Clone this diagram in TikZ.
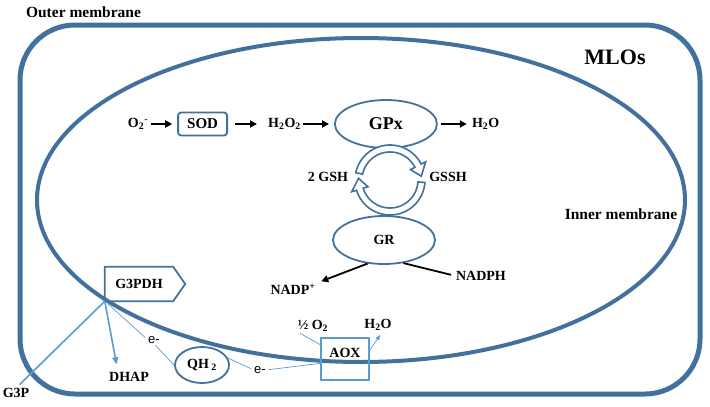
\documentclass[tikz,border=0pt]{standalone}
\usepackage{fontspec}
\setmainfont{Liberation Serif}
\newfontfamily\sanslbl{Liberation Sans}
\usetikzlibrary{arrows.meta, positioning, shapes.geometric}

\definecolor{memblue}{RGB}{65,113,156}
\definecolor{liteblue}{RGB}{91,155,213}

\begin{document}
\begin{tikzpicture}[
  x=1pt, y=-1pt,
  lbl/.style={inner sep=0pt, font=\fontsize{14}{16}\selectfont\bfseries},
  big/.style={inner sep=0pt, font=\fontsize{15.5}{18}\selectfont\bfseries},
  elab/.style={inner sep=0pt, font=\sanslbl\fontsize{13}{15}\selectfont},
  box/.style={draw=memblue, line width=1.8pt, rounded corners=3pt, minimum width=49pt, minimum height=23pt, inner sep=0pt, font=\fontsize{15}{17}\selectfont\bfseries},
  enz/.style={ellipse, draw=memblue, line width=1.8pt, minimum width=102pt, minimum height=48pt, inner sep=0pt, font=\fontsize{14}{16}\selectfont\bfseries},
  arr/.style={line width=1.8pt, -{Triangle[length=7pt,width=7pt]}},
  elec/.style={liteblue, line width=0.7pt},
  lite/.style={liteblue, line width=1.6pt},
  cyc/.style={draw=memblue, line width=1.6pt, fill=white}
]
\useasboundingbox (0,0) rectangle (710,407);

% membranes
\draw[memblue, line width=5pt, rounded corners=55pt] (20,25) rectangle (700,394);
\draw[memblue, line width=4pt] (361,200) ellipse [x radius=324pt, y radius=162pt];
\node[big] (outer) at (83.5,12) {Outer membrane};
\node[big] (inner) at (621,214) {Inner membrane};
\node[inner sep=0pt, font=\fontsize{22}{24}\selectfont\bfseries] (mlos) at (615,57) {MLOs};

% ROS chain
\node[lbl] (o2) at (138,124) {O\textsubscript{2}\textsuperscript{-}};
\node[box, right=29pt of o2] (sod) {SOD};
\node[lbl, right=40pt of sod] (h2o2) {H\textsubscript{2}O\textsubscript{2}};
\node[enz, right=33pt of h2o2, font=\fontsize{18}{20}\selectfont\bfseries] (gpx) {GPx};
\node[lbl, right=34pt of gpx] (h2o) {H\textsubscript{2}O};

\draw[arr, shorten <=3pt, shorten >=5pt] (o2) -- (sod);
\draw[arr, shorten <=7pt, shorten >=11pt] (sod) -- (h2o2);
\draw[arr, shorten <=2pt, shorten >=5pt] (h2o2) -- (gpx);
\draw[arr, shorten <=3pt, shorten >=5pt] (gpx) -- (h2o);

% glutathione cycle
\coordinate (loop) at (390,180);
\begin{scope}[shift={(loop)}]
\draw[cyc] plot[domain=192:333, samples=40] ({35*cos(\x)},{35*sin(\x)}) -- (333:40) -- (353:31.5) -- (333:23)
  -- plot[domain=333:192, samples=40] ({28*cos(\x)},{28*sin(\x)}) -- cycle;
\draw[cyc] plot[domain=4:163, samples=40] ({35*cos(\x)},{35*sin(\x)}) -- (163:40) -- (183:31.5) -- (163:23)
  -- plot[domain=163:4, samples=40] ({28*cos(\x)},{28*sin(\x)}) -- cycle;
\end{scope}

\node[enz] (gr) at (384,240) {GR};
\node[lbl] (gsh) at (328,177) {2 GSH};
\node[lbl] (gssh) at (448,177) {GSSH};
\node[lbl] (nadpp) at (293,289) {NADP\textsuperscript{+}};
\node[lbl] (nadph) at (481,276) {NADPH};

\draw[arr, shorten >=6pt] (gr.235) -- (nadpp.north east);
\draw[line width=1.8pt, shorten >=5pt] (gr.-50) -- (nadph.west);

% G3P shuttle
\node[lbl, minimum width=68pt, minimum height=34pt] (g3pdh) at (139,284) {G3PDH};
\draw[memblue, line width=1.8pt] (g3pdh.south west) -- (g3pdh.north west) -- (g3pdh.north east)
  -- ([xshift=12pt]g3pdh.east) -- (g3pdh.south east) -- cycle;
\node[lbl] (g3p) at (16,393) {G3P};
\node[lbl] (dhap) at (129,377) {DHAP};
\draw[lite, shorten >=5pt] (g3pdh.south west) -- (g3p.north);
\draw[lite, -{Triangle[length=7pt,width=6pt]}, shorten >=8pt] (g3pdh.south west) -- ([xshift=9pt]dhap.north west);

% electron path
\node[elab] (e1) at (154,340) {e-};
\node[elab] (e2) at (260,370) {e-};
\node[enz, minimum width=54pt, minimum height=36pt] (qh2) at (202,365) {QH\,\textsubscript{2}};
\node[draw=liteblue, line width=1.8pt, minimum width=48pt, minimum height=42pt, text depth=12pt,
  font=\fontsize{14}{16}\selectfont\bfseries] (aox) at (345,359) {AOX};
\node[lbl] (half) at (313,326) {½~O\textsubscript{2}};
\node[lbl] (h2ob) at (378,325) {H\textsubscript{2}O};

\draw[elec, shorten <=4pt, shorten >=4pt] (g3pdh.south west) -- (e1.west);
\draw[elec, shorten <=2pt] (e1.south) -- (qh2.west);
\draw[elec, shorten >=3pt] (qh2.15) -- (e2.west);
\draw[elec, shorten <=3pt] (e2.east) -- (aox.190);
\draw[elec, shorten <=3pt] (half.south west) -- (aox.150);
\draw[elec, -{Triangle[length=5pt,width=4pt]}, shorten >=5pt] (aox.20) -- ([xshift=5pt]h2ob.south);
\end{tikzpicture}
\end{document}
